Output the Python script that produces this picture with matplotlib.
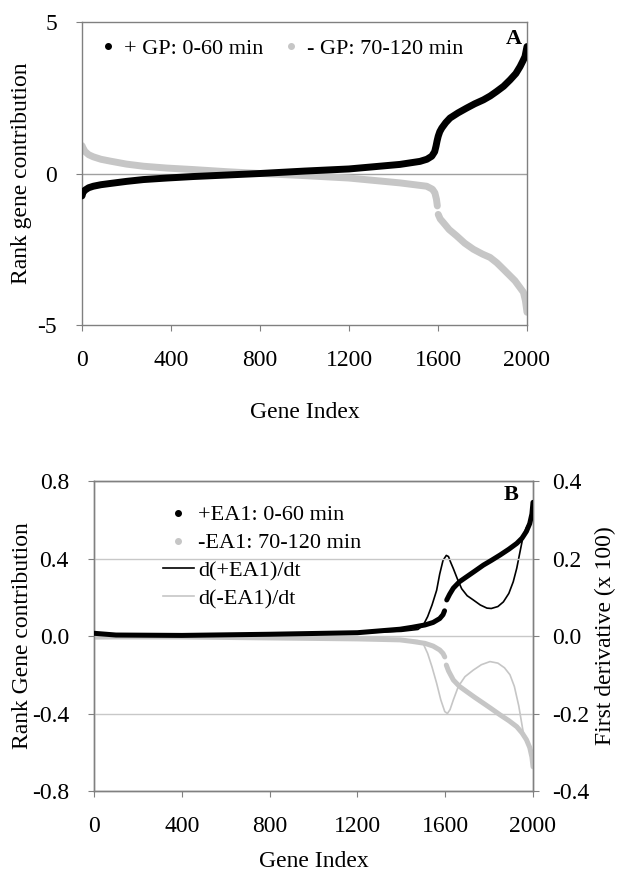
import matplotlib.pyplot as plt
from matplotlib.lines import Line2D

plt.rcParams['font.family'] = ['Liberation Serif', 'DejaVu Serif']
plt.rcParams['axes.unicode_minus'] = False

# ---- panel A: rank gene contribution (GP) ----
gp_plus_idx = [0, 4, 13, 30, 51, 85, 126, 200, 276, 380, 500, 650, 800, 1000, 1200, 1429,
               1519, 1550, 1572, 1585, 1591, 1596, 1601, 1608, 1617, 1635, 1654, 1690, 1729,
               1765, 1804, 1835, 1864, 1895, 1924, 1950, 1969, 1982, 1991, 2000]
gp_plus = [-0.74, -0.63, -0.55, -0.47, -0.42, -0.37, -0.33, -0.26, -0.2, -0.15, -0.1, -0.05,
           0.0, 0.08, 0.15, 0.3, 0.4, 0.47, 0.57, 0.72, 0.9, 1.08, 1.23, 1.38, 1.5, 1.68,
           1.83, 2.0, 2.16, 2.3, 2.43, 2.56, 2.71, 2.88, 3.09, 3.3, 3.53, 3.72, 3.86, 4.19]

gp_minus_idx = [0, 4, 13, 30, 51, 85, 126, 200, 276, 380, 500, 650, 800, 1000, 1200, 1429,
                1549, 1575, 1586, 1593, 1597, 1601, 1610, 1624, 1650, 1684, 1720, 1759,
                1800, 1834, 1865, 1894, 1920, 1946, 1967, 1984, 1993, 2000]
gp_minus = [0.92, 0.85, 0.73, 0.62, 0.55, 0.47, 0.41, 0.31, 0.24, 0.18, 0.13, 0.06,
            0.0, -0.07, -0.15, -0.31, -0.42, -0.52, -0.64, -0.85, -1.07, -1.35, -1.5,
            -1.62, -1.85, -2.06, -2.3, -2.5, -2.66, -2.77, -2.95, -3.16, -3.35, -3.54,
            -3.75, -3.92, -4.2, -4.58]

# ---- panel B: rank gene contribution (EA1) + first derivative ----
ea_plus_idx = [0, 100, 400, 800, 1200, 1394, 1450, 1508, 1545, 1575, 1590, 1597,
               1607, 1620, 1637, 1665, 1698, 1735, 1774, 1810, 1850, 1890, 1926, 1950,
               1970, 1985, 1995, 2000]
ea_plus = [0.014, 0.005, 0.003, 0.009, 0.017, 0.035, 0.045, 0.057, 0.07, 0.09, 0.11, 0.13,
           0.186, 0.215, 0.247, 0.28, 0.306, 0.335, 0.366, 0.39, 0.418, 0.448, 0.478, 0.505,
           0.54, 0.58, 0.63, 0.69]

ea_minus_idx = [0, 100, 400, 800, 1200, 1394, 1450, 1508, 1545, 1575, 1590, 1598,
                1605, 1615, 1637, 1665, 1698, 1735, 1774, 1810, 1850, 1890, 1926, 1950,
                1970, 1985, 1995, 2000]
ea_minus = [-0.006, -0.005, -0.005, -0.01, -0.015, -0.02, -0.028, -0.038, -0.052, -0.072,
            -0.09, -0.108, -0.15, -0.18, -0.227, -0.26, -0.287, -0.317, -0.347, -0.375,
            -0.407, -0.437, -0.468, -0.5, -0.535, -0.575, -0.625, -0.675]

dplus_idx = [0, 800, 1200, 1400, 1476, 1500, 1520, 1540, 1561, 1575, 1590, 1605, 1615,
             1625, 1637, 1655, 1675, 1700, 1728, 1760, 1790, 1810, 1840, 1865, 1890, 1910,
             1926, 1940, 1956, 1970, 1985, 2000]
deriv_plus = [0.005, 0.005, 0.008, 0.012, 0.017, 0.028, 0.05, 0.08, 0.118, 0.16, 0.195,
              0.208, 0.205, 0.19, 0.174, 0.148, 0.122, 0.104, 0.093, 0.08, 0.072, 0.071,
              0.076, 0.088, 0.11, 0.14, 0.175, 0.215, 0.26, 0.28, 0.295, 0.31]

dminus_idx = [0, 800, 1200, 1400, 1476, 1500, 1520, 1540, 1561, 1580, 1598, 1610, 1622,
              1637, 1660, 1690, 1728, 1765, 1804, 1840, 1870, 1895, 1915, 1935, 1956, 1970,
              1985, 2000]
deriv_minus = [-0.003, -0.004, -0.007, -0.01, -0.012, -0.02, -0.045, -0.08, -0.122, -0.165,
               -0.195, -0.2, -0.19, -0.165, -0.13, -0.105, -0.088, -0.074, -0.066, -0.07,
               -0.082, -0.1, -0.13, -0.18, -0.25, -0.27, -0.285, -0.3]

gene_ticks = [0, 400, 800, 1200, 1600, 2000]
GAP = 1600
BLACK = '#000000'
LGRAY = '#c6c6c6'
SPINE = '#808080'
FS = 17

fig = plt.figure(figsize=(6.2, 8.72), dpi=100)
ax_a = fig.add_axes([82 / 620, 1 - 325 / 872, 445 / 620, 303 / 872])
ax_b = fig.add_axes([94 / 620, 1 - 791 / 872, 439 / 620, 310 / 872])


def split(xs, ys):
    lo = [(x, y) for x, y in zip(xs, ys) if x < GAP]
    hi = [(x, y) for x, y in zip(xs, ys) if x >= GAP]
    return [list(zip(*lo)), list(zip(*hi))]


def style(ax):
    for s in ax.spines.values():
        s.set_color(SPINE)
        s.set_linewidth(1.0)
    ax.tick_params(direction='out', length=4, width=0.8, color=SPINE,
                   labelsize=FS, pad=14)
    ax.set_xlim(0, 2000)
    ax.set_xticks(gene_ticks)


# panel A
ax_a.plot(gp_plus_idx, gp_plus, color=BLACK, lw=5, solid_capstyle='round',
          solid_joinstyle='round', zorder=3)
for xs, ys in split(gp_minus_idx, gp_minus):
    ax_a.plot(xs, ys, color=LGRAY, lw=5, solid_capstyle='round',
              solid_joinstyle='round', zorder=2)
ax_a.axhline(0, color='#a0a0a0', lw=1.0, zorder=1)
ax_a.set_ylim(-5, 5)
ax_a.set_yticks([-5, 0, 5])
style(ax_a)
ax_a.set_xlabel('Gene Index', fontsize=FS, labelpad=22)
ax_a.set_ylabel('Rank gene contribution', fontsize=FS)
ax_a.yaxis.set_label_coords(-0.112, 0.5)
ax_a.text(0.971, 0.944, 'A', transform=ax_a.transAxes, fontsize=16,
          fontweight='bold', ha='center', va='center')
h_a = [Line2D([], [], marker='o', ls='none', color=BLACK, markersize=4),
       Line2D([], [], marker='o', ls='none', color=LGRAY, markersize=4)]
ax_a.legend(h_a, ['+ GP: 0-60 min', '- GP: 70-120 min'], ncol=2, loc='center left',
            bbox_to_anchor=(0.034, 0.911), frameon=False, fontsize=16,
            handlelength=1.0, handletextpad=0.2, columnspacing=0.75,
            borderpad=0, borderaxespad=0)

# panel B
ax_r = ax_b.twinx()
ax_r.plot(dplus_idx, deriv_plus, color=BLACK, lw=1.2)
ax_r.plot(dminus_idx, deriv_minus, color=LGRAY, lw=1.2)
ax_r.set_ylim(-0.4, 0.4)
ax_r.set_yticks([-0.4, -0.2, 0.0, 0.2, 0.4])
ax_r.yaxis.set_major_formatter('{x:.1f}')
style(ax_r)
ax_r.tick_params(axis='y', pad=10)
ax_r.set_ylabel('First derivative (x 100)', fontsize=FS)
ax_r.yaxis.set_label_coords(1.14, 0.5)

ax_b.set_zorder(ax_r.get_zorder() + 1)
ax_b.patch.set_visible(False)
for xs, ys in split(ea_plus_idx, ea_plus):
    ax_b.plot(xs, ys, color=BLACK, lw=3.6, solid_capstyle='round',
              solid_joinstyle='round', zorder=3)
for xs, ys in split(ea_minus_idx, ea_minus):
    ax_b.plot(xs, ys, color=LGRAY, lw=3.6, solid_capstyle='round',
              solid_joinstyle='round', zorder=2)
ax_b.set_ylim(-0.8, 0.8)
ax_b.set_yticks([-0.8, -0.4, 0.0, 0.4, 0.8])
ax_b.yaxis.set_major_formatter('{x:.1f}')
ax_b.yaxis.grid(True, color='#c8c8c8', lw=1.0)
ax_b.set_axisbelow(True)
style(ax_b)
ax_b.set_xlabel('Gene Index', fontsize=FS, labelpad=10)
ax_b.set_ylabel('Rank Gene contribution', fontsize=FS)
ax_b.yaxis.set_label_coords(-0.14, 0.5)
ax_b.text(0.95, 0.955, 'B', transform=ax_b.transAxes, fontsize=16,
          fontweight='bold', ha='center', va='center')
h_b = [Line2D([], [], marker='o', ls='none', color=BLACK, markersize=4),
       Line2D([], [], marker='o', ls='none', color=LGRAY, markersize=4),
       Line2D([], [], color=BLACK, lw=1.2),
       Line2D([], [], color=LGRAY, lw=1.2)]
ax_b.legend(h_b, ['+EA1: 0-60 min', '-EA1: 70-120 min', 'd(+EA1)/dt', 'd(-EA1)/dt'],
            loc='upper left', bbox_to_anchor=(0.157, 0.923), frameon=False, fontsize=16,
            handlelength=1.4, handletextpad=0.2, labelspacing=0.33,
            borderpad=0, borderaxespad=0)

fig.savefig('out.png', dpi=100)
